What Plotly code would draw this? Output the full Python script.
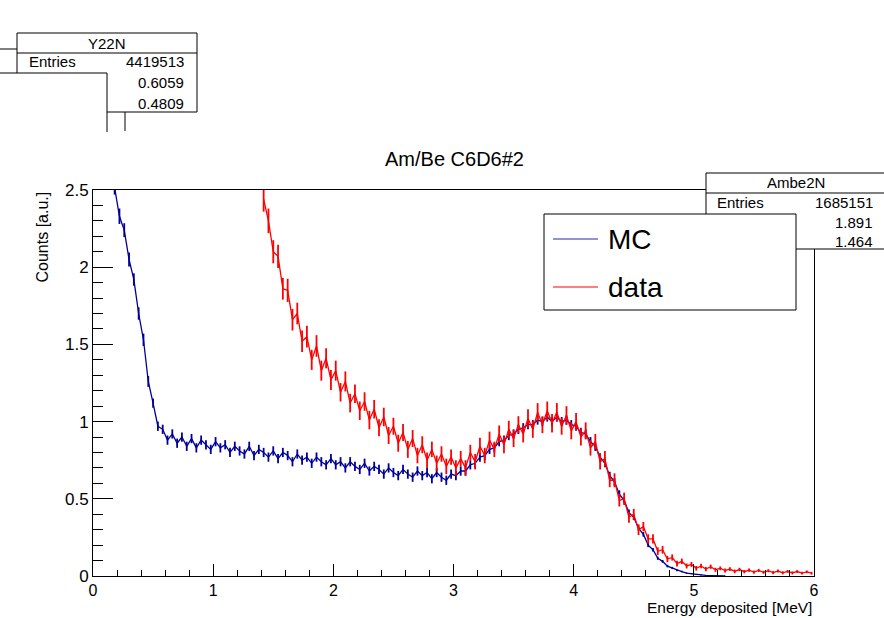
import plotly.graph_objects as go

# ---------------- data ----------------
BIN_W = 0.04
MC_START = 0.0        # lower edge of first MC bin
DATA_START = 1.40     # lower edge of first data bin

mc_values = [
    3.60, 3.25, 2.95, 2.70, 2.52, 2.33, 2.24, 2.05, 1.92, 1.70,
    1.53, 1.26, 1.12, 0.97, 0.95, 0.88, 0.92, 0.86, 0.90, 0.84,
    0.89, 0.83, 0.88, 0.85, 0.82, 0.87, 0.83, 0.85, 0.80, 0.84,
    0.81, 0.79, 0.84, 0.78, 0.82, 0.80, 0.77, 0.81, 0.76, 0.80,
    0.78, 0.74, 0.79, 0.75, 0.77, 0.73, 0.77, 0.74, 0.72, 0.76,
    0.72, 0.74, 0.70, 0.74, 0.71, 0.69, 0.73, 0.68, 0.71, 0.69,
    0.66, 0.70, 0.67, 0.65, 0.69, 0.66, 0.64, 0.68, 0.65, 0.67,
    0.63, 0.67, 0.64, 0.62, 0.66, 0.65, 0.68, 0.68, 0.72, 0.73,
    0.77, 0.78, 0.82, 0.83, 0.87, 0.88, 0.91, 0.92, 0.95, 0.96,
    0.98, 0.98, 1.01, 1.00, 1.03, 1.00, 1.03, 1.00, 1.01, 0.98,
    0.97, 0.93, 0.92, 0.87, 0.84, 0.77, 0.73, 0.65, 0.61, 0.53,
    0.49, 0.41, 0.38, 0.31, 0.27, 0.20, 0.17, 0.115, 0.095, 0.064,
    0.052, 0.036, 0.029, 0.019, 0.015, 0.009, 0.007, 0.004, 0.003, 0.002,
    0.001, 0.0005,
]
mc_errors = [
    0.06, 0.06, 0.05, 0.05, 0.05, 0.05, 0.045, 0.045, 0.04, 0.04,
    0.04, 0.035, 0.03, 0.03, 0.03, 0.03, 0.03, 0.03, 0.03, 0.03,
    0.03, 0.03, 0.03, 0.03, 0.03, 0.03, 0.03, 0.03, 0.03, 0.03,
    0.03, 0.03, 0.03, 0.03, 0.03, 0.03, 0.03, 0.03, 0.03, 0.03,
    0.03, 0.03, 0.03, 0.03, 0.03, 0.03, 0.03, 0.03, 0.03, 0.03,
    0.03, 0.03, 0.03, 0.03, 0.03, 0.03, 0.03, 0.03, 0.03, 0.03,
    0.03, 0.03, 0.03, 0.03, 0.03, 0.03, 0.03, 0.03, 0.03, 0.03,
    0.03, 0.03, 0.03, 0.03, 0.03, 0.03, 0.03, 0.03, 0.03, 0.03,
    0.03, 0.03, 0.03, 0.03, 0.03, 0.03, 0.03, 0.03, 0.03, 0.03,
    0.03, 0.03, 0.03, 0.03, 0.03, 0.03, 0.03, 0.03, 0.03, 0.03,
    0.03, 0.03, 0.03, 0.03, 0.03, 0.025, 0.025, 0.025, 0.025, 0.025,
    0.02, 0.02, 0.018, 0.016, 0.015, 0.013, 0.012, 0.010, 0.009, 0.008,
    0.007, 0.006, 0.005, 0.004, 0.004, 0.003, 0.003, 0.002, 0.002, 0.001,
    0.001, 0.001,
]

data_values = [
    2.44, 2.30, 2.10, 2.07, 1.86, 1.85, 1.66, 1.70, 1.52, 1.55,
    1.40, 1.49, 1.33, 1.41, 1.27, 1.33, 1.19, 1.26, 1.12, 1.18,
    1.07, 1.13, 1.01, 1.08, 0.96, 1.03, 0.91, 0.97, 0.86, 0.93,
    0.82, 0.89, 0.78, 0.85, 0.75, 0.82, 0.73, 0.79, 0.71, 0.77,
    0.70, 0.76, 0.70, 0.80, 0.74, 0.84, 0.78, 0.88, 0.82, 0.92,
    0.85, 0.95, 0.89, 0.98, 0.92, 1.02, 0.95, 1.06, 0.98, 1.07,
    0.99, 1.06, 0.97, 1.04, 0.94, 1.00, 0.90, 0.94, 0.83, 0.87,
    0.74, 0.76, 0.62, 0.62, 0.49, 0.50, 0.38, 0.40, 0.30, 0.32,
    0.24, 0.24, 0.16, 0.17, 0.11, 0.12, 0.080, 0.095, 0.065, 0.075,
    0.050, 0.065, 0.045, 0.060, 0.040, 0.050, 0.035, 0.045, 0.030, 0.042,
    0.028, 0.038, 0.025, 0.036, 0.024, 0.034, 0.022, 0.032, 0.021, 0.030,
    0.020, 0.029, 0.019, 0.027, 0.018,
]
data_errors = [
    0.08, 0.08, 0.075, 0.075, 0.07, 0.075, 0.07, 0.07, 0.07, 0.07,
    0.065, 0.07, 0.065, 0.065, 0.065, 0.065, 0.06, 0.065, 0.06, 0.06,
    0.06, 0.06, 0.06, 0.06, 0.055, 0.06, 0.055, 0.055, 0.055, 0.055,
    0.055, 0.055, 0.05, 0.055, 0.05, 0.05, 0.05, 0.05, 0.05, 0.05,
    0.05, 0.05, 0.05, 0.05, 0.05, 0.055, 0.05, 0.055, 0.05, 0.055,
    0.055, 0.055, 0.055, 0.055, 0.055, 0.06, 0.055, 0.06, 0.055, 0.06,
    0.06, 0.06, 0.055, 0.06, 0.055, 0.055, 0.055, 0.055, 0.05, 0.05,
    0.05, 0.05, 0.045, 0.045, 0.04, 0.04, 0.035, 0.035, 0.035, 0.03,
    0.03, 0.03, 0.025, 0.025, 0.02, 0.02, 0.018, 0.018, 0.016, 0.016,
    0.015, 0.015, 0.014, 0.014, 0.013, 0.012, 0.013, 0.012, 0.012, 0.011,
    0.011, 0.011, 0.011, 0.010, 0.010, 0.010, 0.010, 0.010, 0.010, 0.009,
    0.010, 0.009, 0.009, 0.009, 0.009,
]

mc_x = [MC_START + BIN_W * (i + 0.5) for i in range(len(mc_values))]
data_x = [DATA_START + BIN_W * (i + 0.5) for i in range(len(data_values))]

TITLE = "Am/Be C6D6#2"
X_TITLE = "Energy deposited [MeV]"
Y_TITLE = "Counts [a.u.]"
X_TICKS = [0, 1, 2, 3, 4, 5, 6]
Y_TICKS = [0, 0.5, 1, 1.5, 2, 2.5]

MC_COLOR = "#000099"
DATA_COLOR = "#ff0000"
FONT = "Liberation Sans, Arial, Helvetica, sans-serif"

# ---------------- layout geometry (pixels) ----------------
W, H = 884, 618
L, R, T, B = 93, 814, 190, 576


def px(x):
    return (x - L) / (R - L)


def py(y):
    return (B - y) / (B - T)


fig = go.Figure()

fig.add_trace(go.Scatter(
    x=mc_x, y=mc_values, mode="lines",
    line=dict(color=MC_COLOR, width=1.3),
    error_y=dict(type="data", array=mc_errors, visible=True,
                 color=MC_COLOR, thickness=1.8, width=0),
    showlegend=False, cliponaxis=True,
))
fig.add_trace(go.Scatter(
    x=data_x, y=data_values, mode="lines",
    line=dict(color=DATA_COLOR, width=1.3),
    error_y=dict(type="data", array=data_errors, visible=True,
                 color=DATA_COLOR, thickness=1.8, width=0),
    showlegend=False, cliponaxis=True,
))

shapes = []
annotations = []


def line(x0, y0, x1, y1, color="black", width=1):
    shapes.append(dict(type="line", xref="paper", yref="paper",
                       x0=px(x0), y0=py(y0), x1=px(x1), y1=py(y1),
                       line=dict(color=color, width=width), layer="above"))


def rect(x0, y0, x1, y1, lw=1):
    shapes.append(dict(type="rect", xref="paper", yref="paper",
                       x0=px(x0), y0=py(y0), x1=px(x1), y1=py(y1),
                       line=dict(color="black", width=lw), fillcolor="white",
                       layer="above"))


def text(t, x, y, size=15, xanchor="left", yanchor="middle", angle=0):
    annotations.append(dict(text=t, x=px(x), y=py(y), xref="paper", yref="paper",
                            xanchor=xanchor, yanchor=yanchor, showarrow=False,
                            textangle=angle,
                            font=dict(family=FONT, size=size, color="black")))


# top-left remnants of another pad's stats boxes
line(0, 49, 17, 49)
rect(17, 33, 197, 112)
line(17, 53, 197, 53)
text("Y22N", 107, 43, xanchor="center")
text("Entries", 27, 62)
text("4419513", 186, 62, xanchor="right")
text("0.6059", 186, 83, xanchor="right")
text("0.4809", 186, 103, xanchor="right")
rect(-5, 73, 107, 140)
line(125, 112, 125, 131)
shapes.append(dict(type="rect", xref="paper", yref="paper",
                   x0=px(-10), y0=py(132), x1=px(200), y1=py(145),
                   line=dict(width=0), fillcolor="white", layer="above"))

# Ambe2N stats box
rect(706, 173, 886, 249)
line(706, 193, 886, 193)
text("Ambe2N", 796, 183, xanchor="center")
text("Entries", 715, 202)
text("1685151", 875, 202, xanchor="right")
text("1.891", 875, 222, xanchor="right")
text("1.464", 875, 241, xanchor="right")

# legend box
rect(544, 214, 796, 310)
line(553, 239, 598, 239, color="#6e6ec4", width=1.5)
line(553, 287, 598, 287, color=DATA_COLOR, width=1.2)
text("MC", 606, 239, size=28)
text("data", 606, 287, size=28)

# titles
text(TITLE, 454, 159, size=20, xanchor="center")
text(X_TITLE, 814, 607, size=15.5, xanchor="right")
text(Y_TITLE, 42, 190, size=16, xanchor="center", yanchor="top", angle=-90)

fig.update_layout(
    width=W, height=H,
    margin=dict(l=L, r=W - R, t=T, b=H - B, pad=0),
    paper_bgcolor="white", plot_bgcolor="white",
    shapes=shapes, annotations=annotations,
    font=dict(family=FONT, size=16, color="black"),
)
fig.update_xaxes(
    range=[0, 6], tickvals=X_TICKS, ticks="inside", ticklen=12, tickwidth=1,
    tickcolor="black", showline=True, linecolor="black", linewidth=1, mirror=True,
    showgrid=False, zeroline=False,
    minor=dict(dtick=0.2, ticks="inside", ticklen=6, tickcolor="black", showgrid=False),
    tickfont=dict(family=FONT, size=16, color="black"),
)
fig.update_yaxes(
    range=[0, 2.5], tickvals=Y_TICKS, ticks="inside", ticklen=20, tickwidth=1,
    tickcolor="black", showline=True, linecolor="black", linewidth=1, mirror=True,
    showgrid=False, zeroline=False,
    minor=dict(dtick=0.1, ticks="inside", ticklen=10, tickcolor="black", showgrid=False),
    tickfont=dict(family=FONT, size=17, color="black"),
)

fig.write_html("out.html")
